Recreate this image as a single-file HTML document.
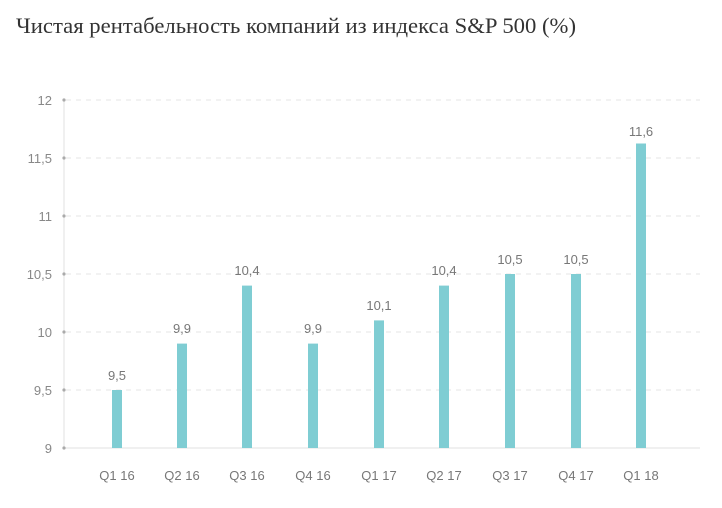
<!DOCTYPE html><html><head><style>body{margin:0;background:#fff;}</style></head><body>
<svg width="722" height="503" xmlns="http://www.w3.org/2000/svg" font-family="Liberation Sans, sans-serif">
<text x="16" y="33" font-family="Liberation Serif, serif" font-size="22" fill="#333" textLength="560" lengthAdjust="spacingAndGlyphs">Чистая рентабельность компаний из индекса S&amp;P 500 (%)</text>
<g stroke="#e6e6e6" stroke-dasharray="5,5">
<line x1="66" y1="100" x2="700" y2="100"/><line x1="66" y1="158" x2="700" y2="158"/><line x1="66" y1="216" x2="700" y2="216"/><line x1="66" y1="274" x2="700" y2="274"/><line x1="66" y1="332" x2="700" y2="332"/><line x1="66" y1="390" x2="700" y2="390"/>
</g>
<line x1="64" y1="100" x2="64" y2="448" stroke="#e0e0e0"/>
<line x1="64" y1="448" x2="700" y2="448" stroke="#e0e0e0"/>
<g fill="#aaa"><circle cx="64" cy="100" r="1.6"/><circle cx="64" cy="158" r="1.6"/><circle cx="64" cy="216" r="1.6"/><circle cx="64" cy="274" r="1.6"/><circle cx="64" cy="332" r="1.6"/><circle cx="64" cy="390" r="1.6"/><circle cx="64" cy="448" r="1.6"/></g>
<g font-size="13" fill="#888" text-anchor="end">
<text x="52" y="105">12</text><text x="52" y="163">11,5</text><text x="52" y="221">11</text><text x="52" y="279">10,5</text><text x="52" y="337">10</text><text x="52" y="395">9,5</text><text x="52" y="453">9</text></g>
<g fill="#7fcdd3">
<rect x="112" y="390" width="10" height="58"/><rect x="177" y="343.6" width="10" height="104.4"/><rect x="242" y="285.6" width="10" height="162.4"/><rect x="308" y="343.6" width="10" height="104.4"/><rect x="374" y="320.4" width="10" height="127.6"/><rect x="439" y="285.6" width="10" height="162.4"/><rect x="505" y="274" width="10" height="174"/><rect x="571" y="274" width="10" height="174"/><rect x="636" y="143.5" width="10" height="304.5"/></g>
<g font-size="13" fill="#777" text-anchor="middle">
<text x="117" y="380">9,5</text><text x="182" y="333">9,9</text><text x="247" y="275">10,4</text><text x="313" y="333">9,9</text><text x="379" y="310">10,1</text><text x="444" y="275">10,4</text><text x="510" y="264">10,5</text><text x="576" y="264">10,5</text><text x="641" y="136">11,6</text>
<text x="117" y="480">Q1 16</text><text x="182" y="480">Q2 16</text><text x="247" y="480">Q3 16</text><text x="313" y="480">Q4 16</text><text x="379" y="480">Q1 17</text><text x="444" y="480">Q2 17</text><text x="510" y="480">Q3 17</text><text x="576" y="480">Q4 17</text><text x="641" y="480">Q1 18</text></g>
</svg></body></html>
